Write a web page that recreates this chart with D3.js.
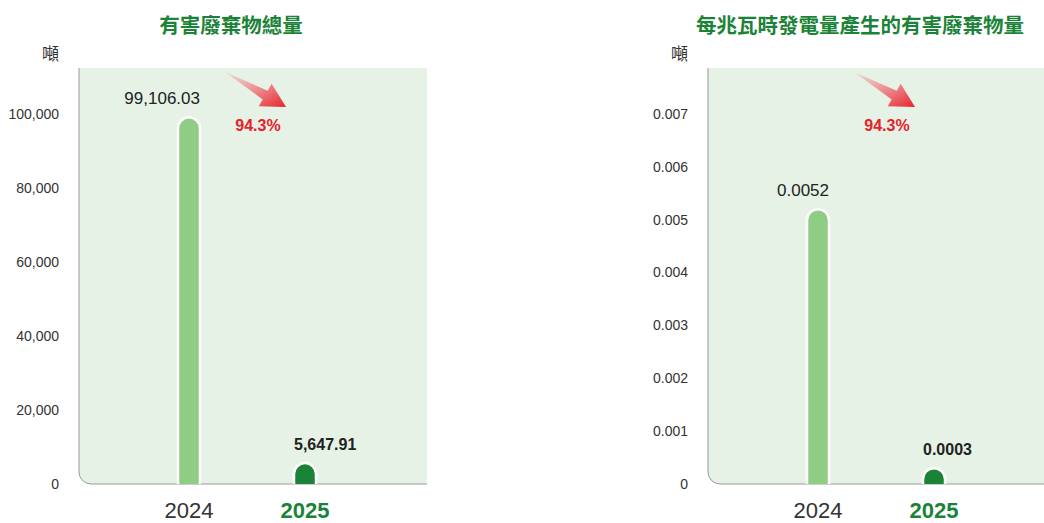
<!DOCTYPE html>
<html>
<head>
<meta charset="utf-8">
<script src="https://cdn.jsdelivr.net/npm/d3@7"></script>
<style>
  body { margin: 0; background: #fff; }
  svg text { font-family: "Liberation Sans", Arial, "Noto Sans CJK TC", sans-serif; }
  .cjk { font-family: "Noto Sans CJK TC", "Noto Sans CJK SC", sans-serif; }
</style>
</head>
<body>
<script>
// data
const years = ["2024", "2025"];
const totalWaste = [99106.03, 5647.91];
const totalLabels = ["99,106.03", "5,647.91"];
const totalTicks = [0, 20000, 40000, 60000, 80000, 100000];
const perMwh = [0.0052, 0.0003];
const perMwhLabels = ["0.0052", "0.0003"];
const perMwhTicks = [0, 0.001, 0.002, 0.003, 0.004, 0.005, 0.006, 0.007];
const titles = ["有害廢棄物總量", "每兆瓦時發電量產生的有害廢棄物量"];
const unit = "噸";
const reduction = "94.3%";

const W = 1044, H = 523;
const plotW = 348, plotTop = 68, plotBottom = 484;
const green = "#1b8338", lightGreen = "#8fcc84", bg = "#e6f2e5";

const svg = d3.select("body").append("svg")
  .attr("width", W)
  .attr("height", H);

const defs = svg.append("defs");
const grad = defs.append("linearGradient")
  .attr("id", "arrowGrad")
  .attr("x1", "0%").attr("y1", "0%")
  .attr("x2", "100%").attr("y2", "100%");
grad.append("stop").attr("offset", "0%").attr("stop-color", "#f4c9cb").attr("stop-opacity", 0.6);
grad.append("stop").attr("offset", "100%").attr("stop-color", "#e8202a");

// draw one panel
const drawPanel = (left, title, values, labels, ticks, tickFmt) => {
  const g = svg.append("g").attr("transform", `translate(${left},0)`);

  const x = d3.scalePoint().domain(years).range([110, 226]);
  const y = d3.scaleLinear().domain([0, d3.max(ticks)]).range([plotBottom, 114]);

  // background with rounded bottom-left corner
  const r = 12;
  g.append("path")
    .attr("d", `M0,${plotTop}H${plotW}V${plotBottom}H${r}A${r},${r} 0 0 1 0,${plotBottom - r}Z`)
    .attr("fill", bg);
  g.append("path")
    .attr("d", `M0,${plotTop}V${plotBottom - r}A${r},${r} 0 0 0 ${r},${plotBottom}H${plotW}`)
    .attr("fill", "none")
    .attr("stroke", "#999")
    .attr("stroke-width", 1);

  // y tick labels
  g.selectAll(".tick")
    .data(ticks)
    .enter().append("text")
    .attr("x", -20)
    .attr("y", (d) => y(d))
    .attr("dy", "0.35em")
    .attr("text-anchor", "end")
    .attr("font-size", 14)
    .attr("fill", "#333")
    .text(tickFmt);

  g.append("text")
    .attr("class", "cjk")
    .attr("x", -20)
    .attr("y", 60)
    .attr("text-anchor", "end")
    .attr("font-size", 17)
    .attr("fill", "#333")
    .text(unit);

  g.append("text")
    .attr("class", "cjk")
    .attr("x", 152)
    .attr("y", 33)
    .attr("text-anchor", "middle")
    .attr("font-size", 20.5)
    .attr("font-weight", "bold")
    .attr("fill", green)
    .text(title);

  // bars with round tops
  const bw = 22;
  const barPath = (d, i) => {
    const cx = x(years[i]);
    const top = y(d);
    const h = plotBottom - top;
    const rr = Math.min(bw / 2, h);
    return `M${cx - bw / 2},${plotBottom}V${top + rr}A${bw / 2},${rr} 0 0 1 ${cx + bw / 2},${top + rr}V${plotBottom}`;
  };
  g.selectAll(".bar")
    .data(values)
    .enter().append("path")
    .attr("d", barPath)
    .attr("fill", (d, i) => (i === 0 ? lightGreen : green))
    .attr("stroke", "#fff")
    .attr("stroke-width", 2.5);

  // value labels
  g.selectAll(".val")
    .data(values)
    .enter().append("text")
    .attr("x", (d, i) => (i === 0 ? x(years[i]) + bw / 2 : x(years[i]) - bw / 2))
    .attr("y", (d) => y(d) - 13)
    .attr("text-anchor", (d, i) => (i === 0 ? "end" : "start"))
    .attr("font-size", (d, i) => (i === 0 ? 17 : 16))
    .attr("font-weight", (d, i) => (i === 0 ? "normal" : "bold"))
    .attr("fill", "#222")
    .text((d, i) => labels[i]);

  // x labels
  g.selectAll(".year")
    .data(years)
    .enter().append("text")
    .attr("x", (d) => x(d))
    .attr("y", 518)
    .attr("text-anchor", "middle")
    .attr("font-size", 22)
    .attr("font-weight", (d, i) => (i === 0 ? "normal" : "bold"))
    .attr("fill", (d, i) => (i === 0 ? "#333" : green))
    .text((d) => d);

  // arrow
  const tail = [146, 4], tip = [207, 39];
  const dx = tip[0] - tail[0], dy = tip[1] - tail[1];
  const len = Math.hypot(dx, dy);
  const ux = dx / len, uy = dy / len, px = -uy, py = ux;
  const headL = 24, headW = 13, shaftW = 5;
  const bx = tip[0] - ux * headL, by = tip[1] - uy * headL;
  const pts = [
    [tail[0], tail[1]],
    [bx + px * shaftW, by + py * shaftW],
    [bx + px * headW, by + py * headW],
    tip,
    [bx - px * headW, by - py * headW],
    [bx - px * shaftW, by - py * shaftW]
  ];
  g.append("polygon")
    .attr("transform", `translate(0,${plotTop})`)
    .attr("points", pts.map((p) => p.join(",")).join(" "))
    .attr("fill", "url(#arrowGrad)");

  g.append("text")
    .attr("x", 179)
    .attr("y", 131)
    .attr("text-anchor", "middle")
    .attr("font-size", 16)
    .attr("font-weight", "bold")
    .attr("fill", "#e8202a")
    .text(reduction);
};

drawPanel(79, titles[0], totalWaste, totalLabels, totalTicks, d3.format(","));
drawPanel(708, titles[1], perMwh, perMwhLabels, perMwhTicks, (d) => (d === 0 ? "0" : d3.format(".3f")(d)));
</script>
</body>
</html>
